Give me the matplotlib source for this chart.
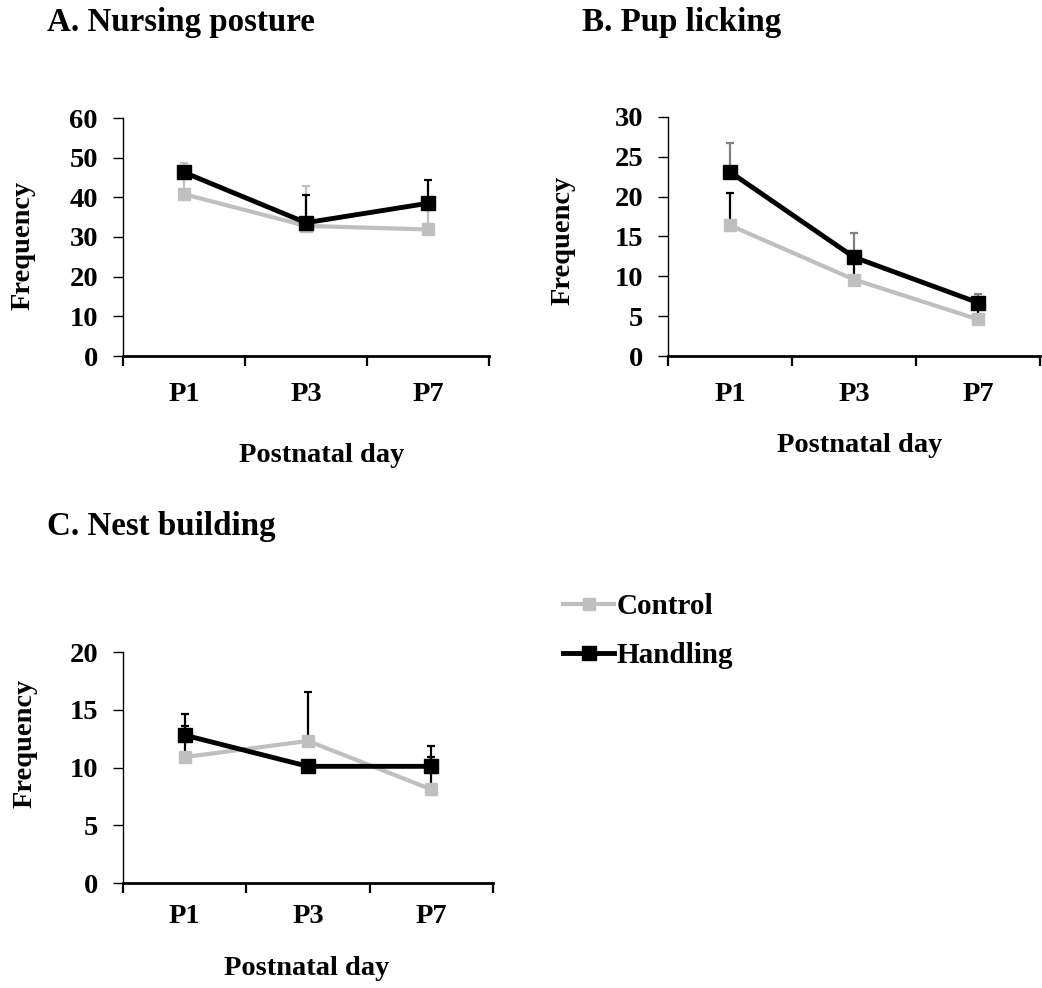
import numpy as np
import matplotlib
matplotlib.use('Agg')
import matplotlib.pyplot as plt

days = ['P1', 'P3', 'P7']

# A. Nursing posture
nurse_ctrl = [40.8, 32.8, 31.9]
nurse_ctrl_err = [7.8, 10.1, 5.0]
nurse_hand = [46.3, 33.6, 38.5]
nurse_hand_err = [1.0, 6.9, 5.8]

# B. Pup licking
lick_ctrl = [16.4, 9.6, 4.6]
lick_ctrl_err = [4.0, 2.5, 1.5]
lick_hand = [23.1, 12.4, 6.7]
lick_hand_err = [3.6, 3.0, 1.1]

# C. Nest building
nest_ctrl = [10.9, 12.3, 8.1]
nest_ctrl_err = [2.7, 4.2, 2.8]
nest_hand = [12.8, 10.1, 10.1]
nest_hand_err = [1.8, 0.4, 1.8]

GRAY = '#bfbfbf'
plt.rcParams['font.family'] = ['Liberation Serif', 'DejaVu Serif']
plt.rcParams['font.weight'] = 'bold'

W, H = 1042, 988
fig = plt.figure(figsize=(W / 100, H / 100), dpi=100)


def px_axes(left, top, right, bottom):
    return fig.add_axes([left / W, 1 - bottom / H, (right - left) / W, (bottom - top) / H])


def panel(ax, ctrl, ctrl_err, hand, hand_err, ymax, step, ctrl_ecol, hand_ecol, xpad):
    x = np.arange(len(days))
    ax.errorbar(x, ctrl, yerr=[np.zeros(len(ctrl)), ctrl_err], fmt='none',
                ecolor=ctrl_ecol, elinewidth=1.6, capsize=3, capthick=1.6, zorder=2)
    ax.errorbar(x, hand, yerr=[np.zeros(len(hand)), hand_err], fmt='none',
                ecolor=hand_ecol, elinewidth=1.6, capsize=3, capthick=1.6, zorder=2)
    ax.plot(x, ctrl, color=GRAY, lw=3.0, marker='s', ms=9, label='Control', zorder=3)
    ax.plot(x, hand, color='black', lw=3.5, marker='s', ms=9.5, label='Handling', zorder=4)
    ax.set_xlim(-0.5, len(days) - 0.5)
    ax.set_ylim(0, ymax)
    ax.set_yticks(np.arange(0, ymax + 0.1, step))
    ax.set_xticks(np.arange(-0.5, len(days), 1.0), minor=False)
    ax.set_xticklabels([])
    ax.set_xticks(x, minor=True)
    ax.set_xticklabels(days, minor=True)
    ax.tick_params(axis='x', which='minor', length=0, pad=xpad, labelsize=20.5)
    ax.tick_params(axis='x', which='major', length=7, width=1.6, direction='out')
    ax.tick_params(axis='y', length=7, width=1.0, pad=11, labelsize=20.5)
    for lab in ax.get_xticklabels(minor=True) + ax.get_yticklabels():
        lab.set_fontweight('bold')
    ax.spines['top'].set_visible(False)
    ax.spines['right'].set_visible(False)
    ax.spines['left'].set_linewidth(1.0)
    ax.spines['bottom'].set_linewidth(2.0)


axA = px_axes(123, 118, 489, 356)
panel(axA, nurse_ctrl, nurse_ctrl_err, nurse_hand, nurse_hand_err, 60, 10, GRAY, 'black', 19)

axB = px_axes(668, 117, 1040, 356)
panel(axB, lick_ctrl, lick_ctrl_err, lick_hand, lick_hand_err, 30, 5, 'black', '#808080', 19)

axC = px_axes(123, 652, 493, 883)
panel(axC, nest_ctrl, nest_ctrl_err, nest_hand, nest_hand_err, 20, 5, 'black', 'black', 15)

# titles
fig.text(47 / W, 1 - 22 / H, 'A. Nursing posture', fontsize=23.8, fontweight='bold', va='center')
fig.text(582 / W, 1 - 22 / H, 'B. Pup licking', fontsize=23.8, fontweight='bold', va='center')
fig.text(47 / W, 1 - 527 / H, 'C. Nest building', fontsize=23.8, fontweight='bold', va='center')

# axis labels
fig.text(23 / W, 1 - 245 / H, 'Frequency', fontsize=20.5, fontweight='bold',
         rotation=90, ha='center', va='center')
fig.text(563 / W, 1 - 240 / H, 'Frequency', fontsize=20.5, fontweight='bold',
         rotation=90, ha='center', va='center')
fig.text(25 / W, 1 - 743 / H, 'Frequency', fontsize=20.5, fontweight='bold',
         rotation=90, ha='center', va='center')
fig.text(322 / W, 1 - 455 / H, 'Postnatal day', fontsize=20.5, fontweight='bold',
         ha='center', va='center')
fig.text(860 / W, 1 - 445 / H, 'Postnatal day', fontsize=20.5, fontweight='bold',
         ha='center', va='center')
fig.text(307 / W, 1 - 968 / H, 'Postnatal day', fontsize=20.5, fontweight='bold',
         ha='center', va='center')

handles, labels = axC.get_legend_handles_labels()
fig.legend(handles, labels, loc='center left', bbox_to_anchor=(563 / W, 1 - 631 / H),
           frameon=False, handlelength=1.75, handletextpad=0.1,
           labelspacing=0.75, borderaxespad=0, borderpad=0,
           prop={'weight': 'bold', 'size': 21})

fig.savefig('out.png', dpi=100)
